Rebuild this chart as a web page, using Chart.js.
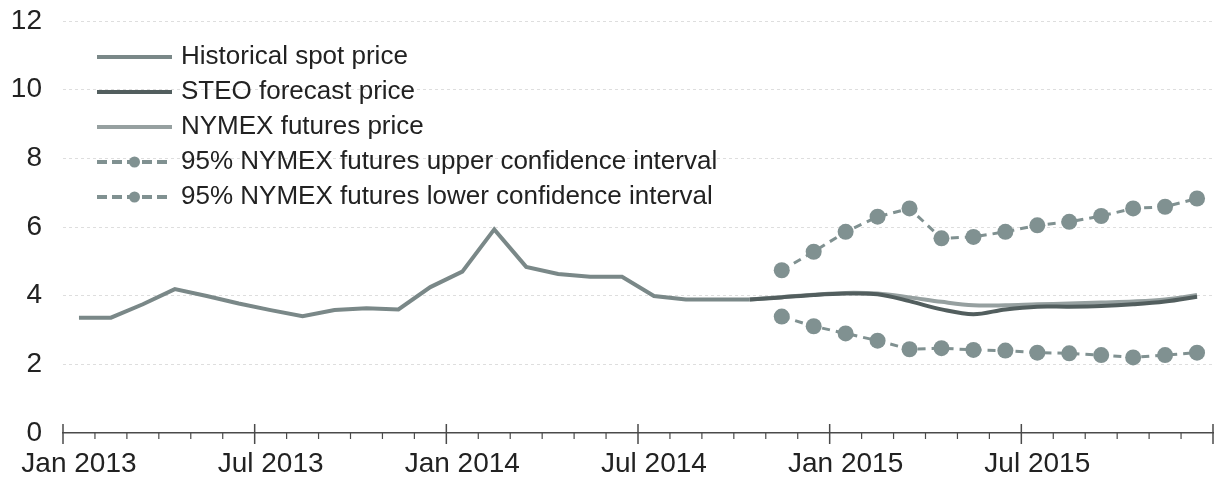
<!DOCTYPE html>
<html>
<head>
<meta charset="utf-8">
<title>Natural gas price forecast</title>
<script src="https://cdn.jsdelivr.net/npm/chart.js@4.4.1/dist/chart.umd.min.js"></script>
<style>
  html, body { margin: 0; padding: 0; background: #fff; overflow: hidden; }
</style>
</head>
<body>
<canvas id="chart" width="1217" height="487"></canvas>
<script>
const categories = [
  'Jan 2013', 'Feb 2013', 'Mar 2013', 'Apr 2013', 'May 2013', 'Jun 2013',
  'Jul 2013', 'Aug 2013', 'Sep 2013', 'Oct 2013', 'Nov 2013', 'Dec 2013',
  'Jan 2014', 'Feb 2014', 'Mar 2014', 'Apr 2014', 'May 2014', 'Jun 2014',
  'Jul 2014', 'Aug 2014', 'Sep 2014', 'Oct 2014', 'Nov 2014', 'Dec 2014',
  'Jan 2015', 'Feb 2015', 'Mar 2015', 'Apr 2015', 'May 2015', 'Jun 2015',
  'Jul 2015', 'Aug 2015', 'Sep 2015', 'Oct 2015', 'Nov 2015', 'Dec 2015'
];

const historicalSpot = [
  3.36, 3.36, 3.75, 4.19, 3.99, 3.77, 3.58, 3.40, 3.58, 3.63, 3.60, 4.25,
  4.70, 5.93, 4.84, 4.63, 4.55, 4.55, 3.99, 3.89, 3.89, 3.89, null, null,
  null, null, null, null, null, null, null, null, null, null, null, null
];

const steoForecast = [
  null, null, null, null, null, null, null, null, null, null, null, null,
  null, null, null, null, null, null, null, null, null, 3.89, 3.95, 4.02,
  4.06, 4.04, 3.84, 3.60, 3.46, 3.60, 3.68, 3.68, 3.70, 3.75, 3.83, 3.97
];

const nymexFutures = [
  null, null, null, null, null, null, null, null, null, null, null, null,
  null, null, null, null, null, null, null, null, null, 3.89, 3.96, 4.03,
  4.08, 4.06, 3.95, 3.82, 3.72, 3.72, 3.75, 3.77, 3.80, 3.83, 3.89, 4.02
];

const upperConfidence = [
  null, null, null, null, null, null, null, null, null, null, null, null,
  null, null, null, null, null, null, null, null, null, null, 4.74, 5.28,
  5.86, 6.30, 6.54, 5.67, 5.71, 5.86, 6.05, 6.15, 6.32, 6.54, 6.59, 6.83
];

const lowerConfidence = [
  null, null, null, null, null, null, null, null, null, null, null, null,
  null, null, null, null, null, null, null, null, null, null, 3.39, 3.11,
  2.90, 2.69, 2.44, 2.47, 2.42, 2.40, 2.34, 2.32, 2.27, 2.20, 2.27, 2.34
];

const yTicks = [0, 2, 4, 6, 8, 10, 12];

const FONT = '"Liberation Sans", Arial, Helvetica, sans-serif';
const AXIS_COLOR = '#4a4a4a';
const CI_COLOR = 'rgb(128, 145, 145)';

Chart.defaults.font.family = FONT;
Chart.defaults.color = '#222';

// month tick marks on the date axis: short ones below the line,
// longer ones every six months crossing it
const monthTicks = {
  id: 'monthTicks',
  afterDraw(chart) {
    const xs = chart.scales.x;
    const ctx = chart.ctx;
    const y = xs.top;
    ctx.save();
    ctx.strokeStyle = AXIS_COLOR;
    for (let k = 0; k <= categories.length; k++) {
      const px = xs.getPixelForValue(k - 0.5);
      const major = k % 6 === 0;
      ctx.lineWidth = major ? 1.5 : 1.2;
      ctx.beginPath();
      ctx.moveTo(px, major ? y - 9 : y);
      ctx.lineTo(px, major ? y + 11 : y + 6);
      ctx.stroke();
    }
    ctx.restore();
  }
};

// legend sitting inside the plot, top left
const insideLegend = {
  id: 'insideLegend',
  afterDraw(chart) {
    const { ctx, chartArea } = chart;
    const x0 = chartArea.left + 34;
    const y0 = chartArea.top + 36;
    const rowH = 35;
    const lineW = 75;
    ctx.save();
    ctx.font = '26px ' + FONT;
    ctx.textBaseline = 'middle';
    chart.data.datasets.forEach((ds, i) => {
      const y = y0 + i * rowH;
      ctx.strokeStyle = ds.borderColor;
      ctx.lineWidth = 4;
      ctx.setLineDash(ds.borderDash && ds.borderDash.length ? [10, 5] : []);
      ctx.beginPath();
      ctx.moveTo(x0, y);
      ctx.lineTo(x0 + lineW, y);
      ctx.stroke();
      ctx.setLineDash([]);
      if (ds.pointRadius > 0) {
        ctx.fillStyle = ds.pointBackgroundColor;
        ctx.beginPath();
        ctx.arc(x0 + lineW / 2, y, 5.5, 0, Math.PI * 2);
        ctx.fill();
      }
      ctx.fillStyle = '#222';
      ctx.fillText(ds.label, x0 + lineW + 9, y);
    });
    ctx.restore();
  }
};

new Chart(document.getElementById('chart'), {
  type: 'line',
  data: {
    labels: categories,
    datasets: [
      {
        label: 'Historical spot price',
        data: historicalSpot,
        borderColor: 'rgb(122, 136, 136)',
        borderWidth: 4,
        pointRadius: 0,
        tension: 0
      },
      {
        label: 'STEO forecast price',
        data: steoForecast,
        borderColor: 'rgb(82, 94, 94)',
        borderWidth: 4,
        pointRadius: 0,
        tension: 0.35
      },
      {
        label: 'NYMEX futures price',
        data: nymexFutures,
        borderColor: 'rgb(150, 160, 160)',
        borderWidth: 4,
        pointRadius: 0,
        tension: 0.35
      },
      {
        label: '95% NYMEX futures upper confidence interval',
        data: upperConfidence,
        borderColor: CI_COLOR,
        borderWidth: 3,
        borderDash: [8, 6],
        pointRadius: 8,
        pointBackgroundColor: CI_COLOR,
        pointBorderWidth: 0,
        tension: 0
      },
      {
        label: '95% NYMEX futures lower confidence interval',
        data: lowerConfidence,
        borderColor: CI_COLOR,
        borderWidth: 3,
        borderDash: [8, 6],
        pointRadius: 8,
        pointBackgroundColor: CI_COLOR,
        pointBorderWidth: 0,
        tension: 0
      }
    ]
  },
  options: {
    responsive: false,
    animation: false,
    layout: {
      autoPadding: false,
      padding: { left: 0, right: 4, top: 21, bottom: 6 }
    },
    plugins: {
      legend: { display: false },
      tooltip: { enabled: false }
    },
    scales: {
      x: {
        type: 'category',
        offset: true,
        afterFit: (s) => {
          s.height = 48;
          s.paddingLeft = 0;
          s.paddingRight = 0;
        },
        grid: {
          offset: true,
          drawOnChartArea: false,
          drawTicks: true,
          tickLength: 14,
          tickColor: 'rgba(0,0,0,0)'
        },
        border: { display: true, color: AXIS_COLOR, width: 1.5 },
        ticks: {
          autoSkip: false,
          maxRotation: 0,
          padding: 0,
          font: { size: 28 },
          color: '#222',
          callback: function (val, idx) {
            return idx % 6 === 0 ? this.getLabelForValue(val) : '';
          }
        }
      },
      y: {
        min: yTicks[0],
        max: yTicks[yTicks.length - 1],
        afterBuildTicks: (s) => { s.ticks = yTicks.map(v => ({ value: v })); },
        afterFit: (s) => {
          s.width = 63;
          s.paddingTop = 0;
          s.paddingBottom = 0;
        },
        grid: {
          drawTicks: false,
          color: (c) => (c.tick && c.tick.value === 0 ? 'rgba(0,0,0,0)' : '#dedede'),
          lineWidth: 1
        },
        border: { display: false, dash: [3, 3] },
        ticks: {
          padding: 21,
          font: { size: 28 },
          color: '#222'
        }
      }
    }
  },
  plugins: [monthTicks, insideLegend]
});
</script>
</body>
</html>
